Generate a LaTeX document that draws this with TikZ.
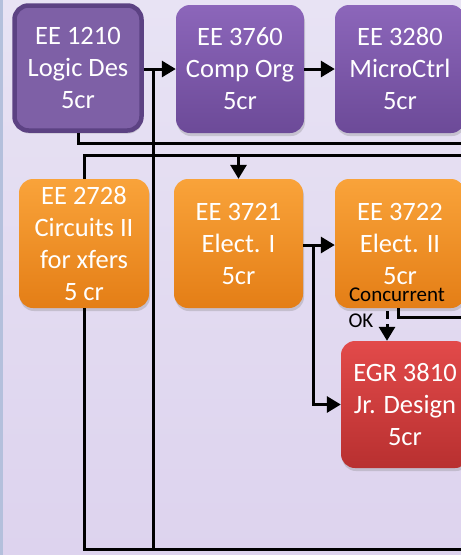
\documentclass[tikz,border=0pt]{standalone}
\usepackage{fontspec}
\setmainfont{Carlito}
\usetikzlibrary{arrows.meta,shadows}
\definecolor{bgtop}{HTML}{E8E3F4}
\definecolor{bgbot}{HTML}{DDD3EE}
\definecolor{strip}{HTML}{B4C0DC}
\definecolor{purtop}{HTML}{8C66BA}
\definecolor{purbot}{HTML}{6C4A98}
\definecolor{purbord}{HTML}{5C4283}
\definecolor{purflat}{HTML}{7E60A6}
\definecolor{ortop}{HTML}{F9A33A}
\definecolor{orbot}{HTML}{E47E16}
\definecolor{redtop}{HTML}{E24A4A}
\definecolor{redbot}{HTML}{B83030}
\tikzset{
  box/.style={rectangle, rounded corners=14pt, align=center, text=white,
    inner sep=0pt, font=\fontsize{26.5}{32}\selectfont,
    drop shadow={opacity=0.3, shadow xshift=1pt, shadow yshift=-3pt}},
  purbox/.style={box, top color=purtop, bottom color=purbot},
  orbox/.style={box, top color=ortop, bottom color=orbot},
  redbox/.style={box, top color=redtop, bottom color=redbot},
  conn/.style={line width=3pt, black},
  arr/.style={conn, -{Triangle[length=14pt,width=16pt]}},
  lbl/.style={inner sep=0pt, text=black, font=\fontsize{21}{22}\selectfont}
}
\begin{document}
\begin{tikzpicture}[x=1pt,y=-1pt]
\useasboundingbox (0,0) rectangle (461,555);
\clip (0,0) rectangle (461,555);
\shade[top color=bgtop, bottom color=bgbot] (0,0) rectangle (461,555);
\fill[strip] (0,0) rectangle (3,555);

% boxes
\node[box, fill=purflat, draw=purbord, line width=4.5pt, minimum width=127pt, minimum height=125pt] (e1210) at (78,68) {EE 1210\\Logic Des\\5cr};
\node[purbox, minimum width=128pt, minimum height=128pt] (e3760) at (240,69) {EE 3760\\Comp Org\\5cr};
\node[purbox, minimum width=130pt, minimum height=128pt] (e3280) at (400,69) {EE 3280\\MicroCtrl\\5cr};
\node[orbox, minimum width=130pt, minimum height=129pt] (e2728) at (84,243.5) {EE 2728\\Circuits II\\for xfers\\5 cr};
\node[orbox, minimum width=129pt, minimum height=129pt] (e3721) at (238.5,243.5) {EE 3721\\Elect. I\\5cr};
\node[orbox, minimum width=130pt, minimum height=129pt] (e3722) at (400,243.5) {EE 3722\\Elect. II\\5cr};
\node[redbox, minimum width=128pt, minimum height=127pt] (egr) at (405,404.5) {EGR 3810\\Jr. Design\\5cr};

% free ends and junctions
\coordinate (r1) at (470,143);
\coordinate (r2) at (470,155);
\coordinate (j1) at (208,155);
\coordinate (j2) at (153,69);
\coordinate (b1) at (153,549);
\coordinate (b2) at (470,549);
\coordinate (r3) at (470,317);
\coordinate (j3) at (313,245);
\coordinate (ds) at (387,311);

% connectors
\draw[conn] (e1210.south) |- (r1);
\draw[conn] (r2) -| (e2728.north);
\draw[arr] (j1) -| (e3721.north);
\draw[conn] (e2728.south) |- (b2);
\draw[arr] (e1210.east |- j2) -- (e3760.west |- j2);
\draw[conn] (j2) -- (b1);
\draw[arr] (e3760.east) -- (e3280.west);
\draw[arr] (e3721.east |- j3) -- (e3722.west |- j3);
\draw[arr] (j3) |- (egr.west);
\draw[conn] (398,308) coordinate (e3722b) -- (398,317) -- (r3);
\draw[arr, dash pattern=on 8pt off 5pt] (ds) -- (ds |- egr.north);

% labels
\node[lbl] (conc) at (397,295) {Concurrent};
\node[lbl] (ok) at (361,321) {OK};
\end{tikzpicture}
\end{document}
